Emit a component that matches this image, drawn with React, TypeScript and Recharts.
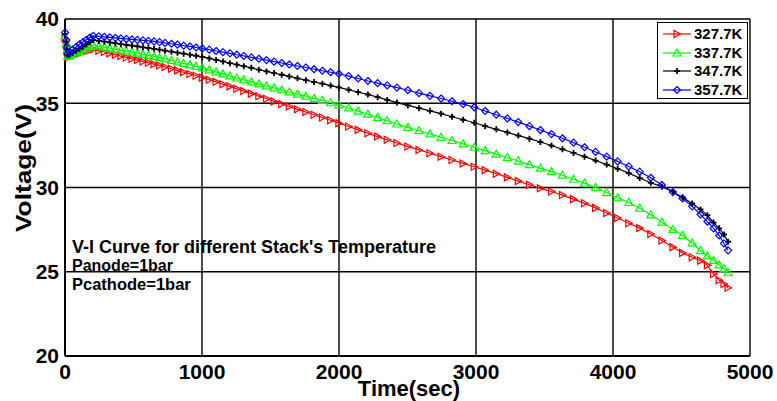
import React from 'react';
import { LineChart, Line, XAxis, YAxis, CartesianGrid, Legend } from 'recharts';

const FONT = '"Liberation Sans", Arial, Helvetica, sans-serif';

// time (sec), shared by the four temperature runs
const TIME = [
  0, 10, 15, 20, 35, 55, 81, 106, 131, 156, 181, 207,
  247, 287, 327, 368, 408, 448, 489, 529, 569, 609, 650, 690, 730,
  777, 821, 866, 912, 957, 1002,
  1053, 1103, 1153, 1204, 1254, 1305,
  1360, 1415, 1471, 1526, 1582, 1637,
  1697, 1758, 1818, 1879, 1939, 1999,
  2070, 2140, 2211, 2282, 2352, 2423,
  2503, 2584, 2664, 2745, 2825, 2906, 2987, 3067, 3148, 3229,
  3309, 3390, 3470, 3551, 3631, 3712, 3792, 3873, 3954, 4034,
  4115, 4195, 4276, 4357, 4437,
  4508, 4578, 4639, 4689, 4734, 4775, 4810, 4840,
];

// stack voltage (V)
const V_327 = [
  38.85, 38.45, 38.05, 37.75, 37.77, 37.82, 37.88, 37.95, 38.02, 38.08, 38.14, 38.2,
  38.12, 38.04, 37.96, 37.88, 37.8, 37.72, 37.64, 37.56, 37.48, 37.4, 37.32, 37.24, 37.15,
  37.05, 36.95, 36.84, 36.74, 36.63, 36.52,
  36.4, 36.27, 36.13, 36.0, 35.86, 35.72,
  35.57, 35.42, 35.27, 35.11, 34.96, 34.81,
  34.64, 34.48, 34.32, 34.15, 33.99, 33.82,
  33.62, 33.42, 33.22, 33.02, 32.83, 32.64,
  32.43, 32.23, 32.03, 31.83, 31.63, 31.43, 31.23, 31.03, 30.82, 30.6,
  30.38, 30.16, 29.95, 29.76, 29.55, 29.31, 29.06, 28.79, 28.49, 28.19,
  27.88, 27.59, 27.24, 26.85, 26.46,
  26.12, 25.86, 25.66, 25.38, 24.87, 24.5, 24.27, 24.05,
];

const V_337 = [
  38.95, 38.55, 38.15, 37.8, 37.83, 37.9, 37.99, 38.08, 38.17, 38.26, 38.36, 38.45,
  38.39, 38.33, 38.27, 38.21, 38.15, 38.09, 38.03, 37.97, 37.9, 37.84, 37.78, 37.71, 37.63,
  37.54, 37.45, 37.37, 37.28, 37.19, 37.1,
  36.98, 36.86, 36.74, 36.62, 36.5, 36.39,
  36.27, 36.15, 36.03, 35.91, 35.79, 35.67,
  35.54, 35.42, 35.29, 35.17, 35.03, 34.9,
  34.72, 34.53, 34.35, 34.16, 33.96, 33.77,
  33.57, 33.37, 33.18, 32.98, 32.79, 32.59, 32.39, 32.19, 31.98, 31.78,
  31.57, 31.36, 31.15, 30.94, 30.73, 30.49, 30.26, 30.0, 29.7, 29.39,
  29.11, 28.77, 28.38, 27.94, 27.51,
  27.16, 26.71, 26.25, 25.94, 25.67, 25.41, 25.18, 24.94,
];

const V_347 = [
  39.1, 38.65, 38.2, 37.85, 37.9, 38.0, 38.12, 38.24, 38.36, 38.5, 38.63, 38.75,
  38.7, 38.66, 38.61, 38.56, 38.51, 38.47, 38.42, 38.37, 38.32, 38.28, 38.23, 38.18, 38.12,
  38.06, 38.0, 37.94, 37.88, 37.82, 37.75,
  37.66, 37.57, 37.48, 37.38, 37.29, 37.2,
  37.1, 36.99, 36.89, 36.79, 36.69, 36.59,
  36.48, 36.37, 36.26, 36.16, 36.05, 35.94,
  35.8, 35.66, 35.52, 35.36, 35.2, 35.04,
  34.87, 34.71, 34.55, 34.38, 34.2, 34.02, 33.84, 33.64, 33.45, 33.27,
  33.08, 32.9, 32.7, 32.49, 32.27, 32.05, 31.83, 31.6, 31.36, 31.11,
  30.85, 30.56, 30.28, 30.05, 29.75,
  29.41, 29.05, 28.7, 28.36, 27.92, 27.58, 27.21, 26.78,
];

const V_357 = [
  39.2, 38.75, 38.3, 37.95, 38.05, 38.18, 38.34, 38.5, 38.63, 38.77, 38.9, 39.0,
  38.97, 38.94, 38.91, 38.88, 38.85, 38.82, 38.79, 38.76, 38.73, 38.7, 38.67, 38.63, 38.58,
  38.53, 38.48, 38.42, 38.37, 38.31, 38.25,
  38.18, 38.1, 38.03, 37.96, 37.88, 37.81,
  37.72, 37.64, 37.56, 37.47, 37.39, 37.3,
  37.21, 37.12, 37.02, 36.93, 36.84, 36.75,
  36.61, 36.47, 36.32, 36.19, 36.06, 35.93,
  35.77, 35.6, 35.44, 35.28, 35.12, 34.95, 34.76, 34.54, 34.32, 34.1,
  33.88, 33.64, 33.41, 33.17, 32.92, 32.66, 32.39, 32.11, 31.83, 31.55,
  31.25, 30.94, 30.58, 30.15, 29.73,
  29.35, 28.88, 28.4, 27.98, 27.57, 27.15, 26.68, 26.27,
];

const X_TICKS = [0, 1000, 2000, 3000, 4000, 5000];
const Y_TICKS = [20, 25, 30, 35, 40];

const SERIES = [
  { key: 'v327', name: '327.7K', color: '#ff0000', marker: 'right' },
  { key: 'v337', name: '337.7K', color: '#00ff00', marker: 'up' },
  { key: 'v347', name: '347.7K', color: '#000000', marker: 'plus' },
  { key: 'v357', name: '357.7K', color: '#0000ff', marker: 'diamond' },
];

const NOTES = ["V-I Curve for different Stack's Temperature", 'Panode=1bar', 'Pcathode=1bar'];

const data = TIME.map((t, i) => ({
  t,
  v327: V_327[i],
  v337: V_337[i],
  v347: V_347[i],
  v357: V_357[i],
}));

const Marker = ({ type, cx, cy, color }: { type: string; cx: number; cy: number; color: string }) => {
  if (type === 'right') {
    return <path d={`M${cx - 3},${cy - 3.5}L${cx + 3.5},${cy}L${cx - 3},${cy + 3.5}Z`} fill="none" stroke={color} strokeWidth={1.2} />;
  }
  if (type === 'up') {
    return <path d={`M${cx},${cy - 4}L${cx + 4},${cy + 3}L${cx - 4},${cy + 3}Z`} fill="none" stroke={color} strokeWidth={1.2} />;
  }
  if (type === 'diamond') {
    return <path d={`M${cx},${cy - 3.5}L${cx + 3.5},${cy}L${cx},${cy + 3.5}L${cx - 3.5},${cy}Z`} fill="none" stroke={color} strokeWidth={1.2} />;
  }
  return <path d={`M${cx - 3},${cy}H${cx + 3}M${cx},${cy - 3}V${cy + 3}`} stroke={color} strokeWidth={1.8} />;
};

const makeDot = (type: string, color: string) => (props: any) => {
  const { cx, cy, index } = props;
  if (cx == null || cy == null) return <g key={`${type}-${index}`} />;
  return (
    <g key={`${type}-${index}`}>
      <Marker type={type} cx={cx} cy={cy} color={color} />
    </g>
  );
};

const LegendBox = () => (
  <div
    style={{
      boxSizing: 'border-box',
      width: 91,
      height: 77,
      border: '1px solid #000',
      background: '#fff',
      padding: '2px 0 0 5px',
      fontFamily: FONT,
      fontWeight: 'bold',
      fontSize: 15,
      color: '#000',
    }}
  >
    {SERIES.map((s) => (
      <div key={s.key} style={{ display: 'flex', alignItems: 'center', height: 18.5 }}>
        <svg width={29} height={12} style={{ display: 'block' }}>
          <line x1={0} y1={6} x2={28} y2={6} stroke={s.color} strokeWidth={1.2} />
          <Marker type={s.marker} cx={14} cy={6} color={s.color} />
        </svg>
        <span style={{ marginLeft: 2, lineHeight: '18px' }}>{s.name}</span>
      </div>
    ))}
  </div>
);

const VoltageLabel = () => (
  <text
    transform="translate(23,168) rotate(-90)"
    textAnchor="middle"
    dominantBaseline="central"
    fontFamily={FONT}
    fontWeight="bold"
    fontSize={22}
    fill="#000"
    textLength={128}
    lengthAdjust="spacingAndGlyphs"
  >
    Voltage(V)
  </text>
);

const TimeLabel = () => (
  <text x={409} y={396} textAnchor="middle" fontFamily={FONT} fontWeight="bold" fontSize={22} fill="#000">
    Time(sec)
  </text>
);

const tickStyle = { fill: '#000', fontSize: 21, fontWeight: 'bold', fontFamily: FONT };

export default function App() {
  return (
    <div style={{ position: 'absolute', left: 0, top: 0, width: 777, height: 401, background: '#fff' }}>
      <LineChart width={777} height={401} data={data} margin={{ top: 19, right: 27, bottom: 0, left: 0 }}>
        <CartesianGrid stroke="#000" strokeWidth={1.4} />
        <XAxis
          dataKey="t"
          type="number"
          domain={[0, 5000]}
          ticks={X_TICKS}
          interval={0}
          height={45}
          tickSize={0}
          tickMargin={8}
          tick={tickStyle}
          axisLine={{ stroke: '#000', strokeWidth: 2 }}
          label={<TimeLabel />}
        />
        <YAxis
          type="number"
          domain={[20, 40]}
          ticks={Y_TICKS}
          interval={0}
          width={65}
          tickSize={0}
          tickMargin={6}
          tick={tickStyle}
          axisLine={{ stroke: '#000', strokeWidth: 2 }}
          label={<VoltageLabel />}
        />
        <Legend
          layout="vertical"
          align="center"
          verticalAlign="middle"
          wrapperStyle={{ left: 657, top: 22, width: 91, height: 77 }}
          content={() => <LegendBox />}
        />
        {SERIES.map((s) => (
          <Line
            key={s.key}
            type="linear"
            dataKey={s.key}
            name={s.name}
            stroke={s.color}
            strokeWidth={1.2}
            dot={makeDot(s.marker, s.color)}
            activeDot={false}
            isAnimationActive={false}
          />
        ))}
      </LineChart>
      <svg width={777} height={401} style={{ position: 'absolute', left: 0, top: 0, pointerEvents: 'none' }}>
        <text x={72} y={253} fontFamily={FONT} fontWeight="bold" fontSize={18} fill="#000">{NOTES[0]}</text>
        <text x={72} y={271} fontFamily={FONT} fontWeight="bold" fontSize={16} fill="#000">{NOTES[1]}</text>
        <text x={72} y={290} fontFamily={FONT} fontWeight="bold" fontSize={16.5} fill="#000">{NOTES[2]}</text>
      </svg>
    </div>
  );
}
